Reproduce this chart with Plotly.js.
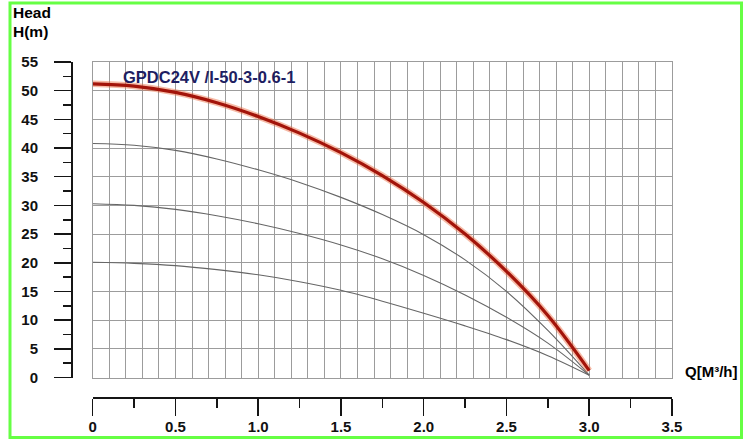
<!DOCTYPE html>
<html>
<head>
<meta charset="utf-8">
<script src="https://cdn.plot.ly/plotly-3.0.1.min.js"></script>
<style>
html,body{margin:0;padding:0;background:#fff;}
#chart{width:747px;height:440px;}
</style>
</head>
<body>
<div id="chart"></div>
<script>
// Flow rate Q [m3/h]
const flow = [0, 0.25, 0.5, 0.75, 1.0, 1.25, 1.5, 1.75, 2.0, 2.25, 2.5, 2.75, 3.0];
// Head curves H [m]
const headMain = [51.2, 50.8, 49.7, 47.9, 45.5, 42.6, 39.2, 35.2, 30.5, 25.0, 18.5, 10.8, 1.2];
const head40   = [40.8, 40.5, 39.6, 38.1, 36.2, 34.0, 31.4, 28.4, 24.9, 20.5, 15.0, 8.2, 0.4];
const head30   = [30.3, 30.0, 29.3, 28.2, 26.8, 25.1, 23.1, 20.7, 17.8, 14.4, 10.5, 6.0, 0.4];
const head20   = [20.1, 19.9, 19.5, 18.8, 17.9, 16.7, 15.2, 13.3, 11.2, 9.0, 6.6, 3.8, 0.4];

const xTickVals = [0, 0.5, 1.0, 1.5, 2.0, 2.5, 3.0, 3.5];
const xTickText = ['0', '0.5', '1.0', '1.5', '2.0', '2.5', '3.0', '3.5'];
const yTickVals = [0, 5, 10, 15, 20, 25, 30, 35, 40, 45, 50, 55];
const yTickText = ['0', '5', '10', '15', '20', '25', '30', '35', '40', '45', '50', '55'];

const modelName = 'GPDC24V /I-50-3-0.6-1';
const yLabel1 = 'Head';
const yLabel2 = 'H(m)';
const xLabel = 'Q[M³/h]';

const FONT = 'Liberation Sans, Arial, Helvetica, sans-serif';
const grey = {color: '#666666', width: 1.1, shape: 'spline', smoothing: 1};

const traces = [
  {x: flow, y: head20, mode: 'lines', line: grey, xaxis: 'x', yaxis: 'y', hoverinfo: 'skip'},
  {x: flow, y: head30, mode: 'lines', line: grey, xaxis: 'x', yaxis: 'y', hoverinfo: 'skip'},
  {x: flow, y: head40, mode: 'lines', line: grey, xaxis: 'x', yaxis: 'y', hoverinfo: 'skip'},
  {x: flow, y: headMain, mode: 'lines', line: {color: 'rgba(235,105,60,0.45)', width: 6.5, shape: 'spline', smoothing: 1}, xaxis: 'x2', yaxis: 'y2', hoverinfo: 'skip'},
  {x: flow, y: headMain, mode: 'lines', line: {color: '#a3140a', width: 3.2, shape: 'spline', smoothing: 1}, xaxis: 'x2', yaxis: 'y2', hoverinfo: 'skip'}
];

// plot area: left 71, right 672, top 62, bottom 397
const L = 71, R = 672, T = 62, B = 397;
const W = R - L, H = B - T;
const px = v => (v - L) / W;
const py = v => (B - v) / H;
const xDom = [px(92.7), 1];
const yDom = [py(377.5), 1];

const gridColor = '#9c9c9c';
const axisColor = '#151515';
const tickFont = {family: FONT, size: 15, color: '#111', weight: 'bold'};

const layout = {
  width: 747, height: 440,
  margin: {l: L, r: 747 - R, t: T, b: 440 - B, pad: 0},
  paper_bgcolor: '#fff', plot_bgcolor: '#fff',
  showlegend: false,
  xaxis: {
    domain: xDom, range: [0, 3.5], anchor: 'y',
    showgrid: true, dtick: 0.1, tick0: 0, gridcolor: gridColor, gridwidth: 1,
    showticklabels: false, ticks: '', zeroline: false,
    showline: true, mirror: true, linecolor: gridColor, linewidth: 1
  },
  yaxis: {
    domain: yDom, range: [0, 55], anchor: 'x',
    showgrid: true, dtick: 5, tick0: 0, gridcolor: gridColor, gridwidth: 1,
    showticklabels: false, ticks: '', zeroline: false,
    showline: true, mirror: true, linecolor: gridColor, linewidth: 1
  },
  xaxis2: {
    overlaying: 'x', anchor: 'free', position: 0, domain: xDom,
    range: [0, 3.5], showgrid: false, zeroline: false,
    showline: true, linecolor: axisColor, linewidth: 1.5,
    tickmode: 'array', tickvals: xTickVals, ticktext: xTickText,
    ticks: 'outside', ticklen: 17, tickwidth: 1.5, tickcolor: axisColor,
    minor: {ticks: 'outside', dtick: 0.25, tick0: 0, ticklen: 9, tickwidth: 1.5, tickcolor: axisColor, showgrid: false},
    tickfont: tickFont, ticklabelstandoff: -2
  },
  yaxis2: {
    overlaying: 'y', anchor: 'free', position: 0, side: 'left', domain: yDom,
    range: [0, 55], showgrid: false, zeroline: false,
    showline: true, linecolor: axisColor, linewidth: 1.5,
    tickmode: 'array', tickvals: yTickVals, ticktext: yTickText,
    ticks: 'outside', ticklen: 17, tickwidth: 1.5, tickcolor: axisColor,
    minor: {ticks: 'outside', dtick: 2.5, tick0: 0, ticklen: 8, tickwidth: 1.5, tickcolor: axisColor, showgrid: false},
    tickfont: tickFont, ticklabelstandoff: 13
  },
  annotations: [
    {xref: 'paper', yref: 'paper', x: px(11), y: py(12.5), xanchor: 'left', yanchor: 'middle', showarrow: false,
     text: yLabel1, font: {family: FONT, size: 15.5, color: '#000', weight: 'bold'}},
    {xref: 'paper', yref: 'paper', x: px(11), y: py(32), xanchor: 'left', yanchor: 'middle', showarrow: false,
     text: yLabel2, font: {family: FONT, size: 15.5, color: '#000', weight: 'bold'}},
    {xref: 'paper', yref: 'paper', x: px(121), y: py(77), xanchor: 'left', yanchor: 'middle', showarrow: false,
     text: modelName, font: {family: FONT, size: 16.5, color: '#1e1e62', weight: 'bold'}},
    {xref: 'paper', yref: 'paper', x: px(683), y: py(371), xanchor: 'left', yanchor: 'middle', showarrow: false,
     text: xLabel, font: {family: FONT, size: 15, color: '#000', weight: 'bold'}}
  ],
  shapes: [
    {type: 'rect', xref: 'paper', yref: 'paper', x0: px(10), x1: px(741.5), y0: py(3), y1: py(437.5),
     line: {color: '#66ff44', width: 3}, fillcolor: 'rgba(0,0,0,0)', layer: 'above'}
  ]
};

Plotly.newPlot('chart', traces, layout, {staticPlot: true, displayModeBar: false});
</script>
</body>
</html>
